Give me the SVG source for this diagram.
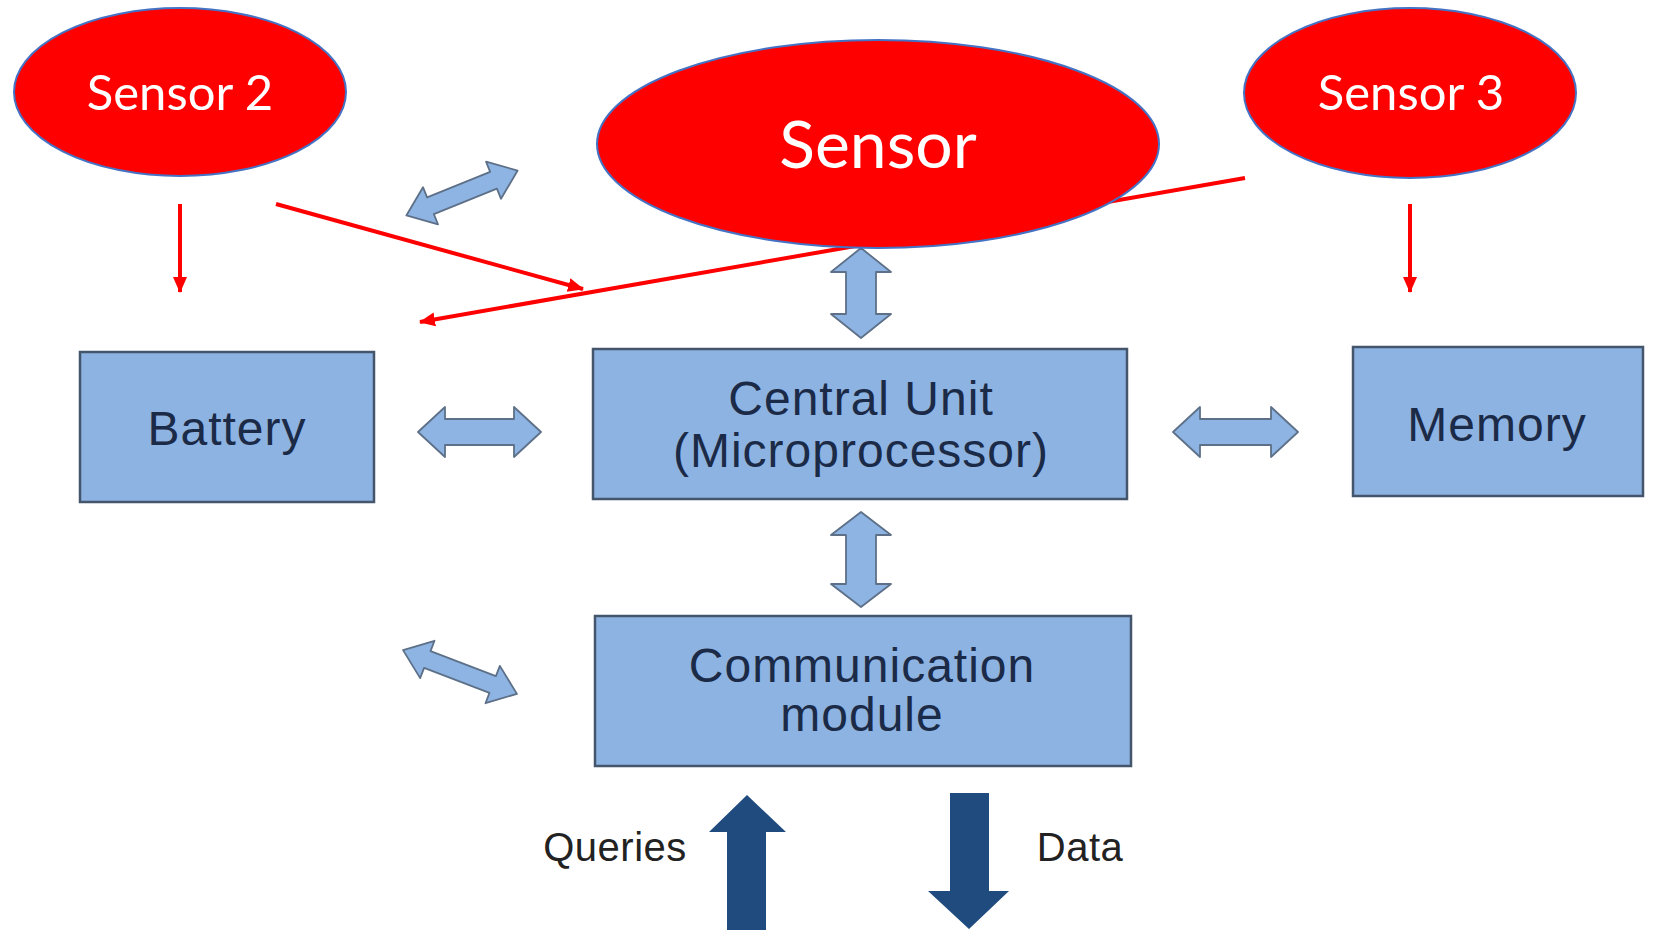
<svg xmlns="http://www.w3.org/2000/svg" width="1657" height="930" viewBox="0 0 1657 930">
<style>
.box{fill:#8db3e2;stroke:#44566c;stroke-width:2.5}
.btxt{font-family:"Liberation Sans",Arial,sans-serif;font-size:48px;fill:#1b2a47;text-anchor:middle;letter-spacing:1px}
.sens{fill:#ff0000;stroke:#4472c4;stroke-width:2}
.stxt{font-family:Lato,"Open Sans",sans-serif;fill:#ffffff;text-anchor:middle}
.red{stroke:#ff0000;stroke-width:4;fill:none;marker-end:url(#rh)}
.dbl{fill:#8db4e3;stroke:#5d7088;stroke-width:1.8;stroke-linejoin:round}
.dark{fill:#1f4b7e}
.lbl{font-family:"Liberation Sans",Arial,sans-serif;font-size:40px;fill:#222;text-anchor:middle;letter-spacing:0.5px}
</style>
<defs>
<marker id="rh" markerUnits="userSpaceOnUse" markerWidth="16" markerHeight="16" viewBox="0 0 16 16" refX="15" refY="8" orient="auto">
<path d="M0,1 L16,8 L0,15 Z" fill="#ff0000"/>
</marker>
</defs>
<rect width="1657" height="930" fill="#ffffff"/>
<g id="connectors">
<line class="red" x1="180" y1="204" x2="180" y2="292"/>
<line class="red" x1="1410" y1="204" x2="1410" y2="292"/>
<line class="red" x1="276" y1="204" x2="583" y2="289"/>
<line class="red" x1="1245" y1="178" x2="420" y2="322"/>
<polygon class="dbl" points="418,432 445,407 445,419 514,419 514,407 541,432 514,457 514,445 445,445 445,457"/>
<polygon class="dbl" points="1173,432 1200,407 1200,419 1271,419 1271,407 1298,432 1271,457 1271,445 1200,445 1200,457"/>
<polygon class="dbl" points="861,248 891,272 876,272 876,314 891,314 861,338 831,314 846,314 846,272 831,272"/>
<polygon class="dbl" points="861,512 891,535 876,535 876,584 891,584 861,607 831,584 846,584 846,535 831,535"/>
<polygon class="dbl" transform="translate(462,193) rotate(-22)" points="-60,0 -34,-20 -34,-9 34,-9 34,-20 60,0 34,20 34,9 -34,9 -34,20"/>
<polygon class="dbl" transform="translate(460,672) rotate(21)" points="-61,0 -35,-20 -35,-9 35,-9 35,-20 61,0 35,20 35,9 -35,9 -35,20"/>
<path class="dark" d="M747,795 L786,832 L766,832 L766,930 L727,930 L727,832 L709,832 Z"/>
<path class="dark" d="M950,793 L989,793 L989,891 L1009,891 L969,929 L928,891 L950,891 Z"/>
</g>
<g id="sensor2">
<ellipse class="sens" cx="180" cy="92" rx="166" ry="84"/>
<text class="stxt" x="180" y="110" font-size="49">Sensor 2</text>
</g>
<g id="sensor">
<ellipse class="sens" cx="878" cy="144" rx="281" ry="104"/>
<text class="stxt" x="878" y="168" font-size="66">Sensor</text>
</g>
<g id="sensor3">
<ellipse class="sens" cx="1410" cy="93" rx="166" ry="85"/>
<text class="stxt" x="1411" y="110" font-size="49">Sensor 3</text>
</g>
<g id="battery">
<rect class="box" x="80" y="352" width="294" height="150"/>
<text class="btxt" x="227" y="445">Battery</text>
</g>
<g id="central">
<rect class="box" x="593" y="349" width="534" height="150"/>
<text class="btxt" x="861" y="415">Central Unit</text>
<text class="btxt" x="861" y="467">(Microprocessor)</text>
</g>
<g id="memory">
<rect class="box" x="1353" y="347" width="290" height="149"/>
<text class="btxt" x="1497" y="441">Memory</text>
</g>
<g id="comm">
<rect class="box" x="595" y="616" width="536" height="150"/>
<text class="btxt" x="862" y="682">Communication</text>
<text class="btxt" x="862" y="731">module</text>
</g>
<g id="labels">
<text class="lbl" x="615" y="861">Queries</text>
<text class="lbl" x="1080" y="861">Data</text>
</g>
</svg>
